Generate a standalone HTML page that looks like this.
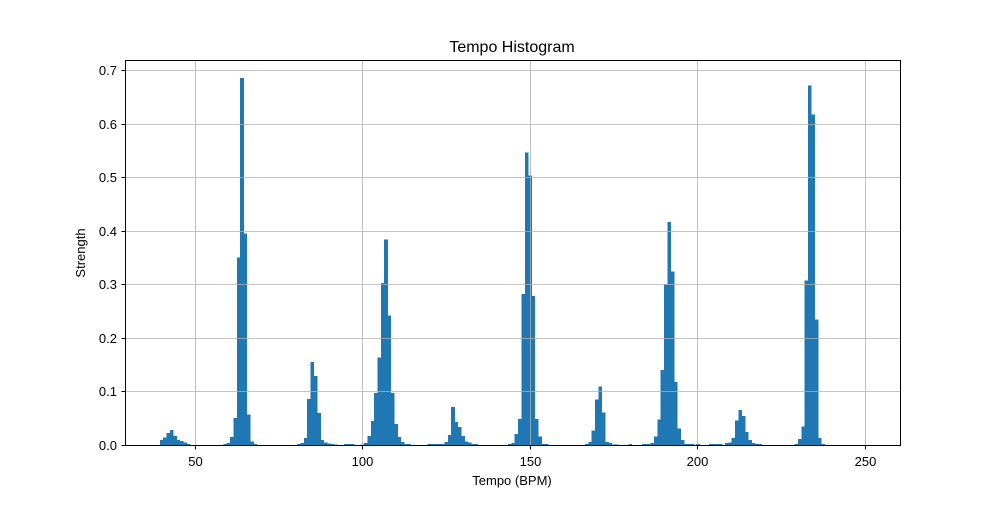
<!DOCTYPE html>
<html><head><meta charset="utf-8"><style>
body{margin:0;background:#fff;}
svg text{font-family:"Liberation Sans","DejaVu Sans",sans-serif;fill:#000;}
</style></head><body>
<svg id="chart" width="1000" height="500" xmlns="http://www.w3.org/2000/svg">
<rect x="0" y="0" width="1000" height="500" fill="#fff"/>
<g id="bars" shape-rendering="crispEdges"></g>
<g id="grid"></g>
<rect x="125.5" y="60.5" width="775" height="385" fill="none" stroke="#000" stroke-width="1"/>
<g id="ticks"></g>
<text x="512" y="52" font-size="16" text-anchor="middle">Tempo Histogram</text>
<text x="512" y="485" font-size="13" text-anchor="middle">Tempo (BPM)</text>
<text x="85" y="253" font-size="13" text-anchor="middle" transform="rotate(-90 85 253)">Strength</text>
</svg>
<script>
const bpms = [40,41,42,43,44,45,46,47,48,
59,60,61,62,63,64,65,66,67,68,
81,82,83,84,85,86,87,88,89,90,91,92,95,96,97,
100,101,102,103,104,105,106,107,108,109,110,111,112,113,114,
120,121,122,123,124,125,126,127,128,129,130,131,132,133,134,
144,145,146,147,148,149,150,151,152,153,154,155,
167,168,169,170,171,172,173,174,175,176,180,184,
184.6,185.6,186.6,187.6,188.6,189.6,190.6,191.6,192.6,193.6,194.6,195.6,196.6,197.6,198.6,200.2,
204,205,206,207,208.8,209.8,210.8,211.8,212.8,213.8,214.8,215.8,216.8,217.8,218.8,
229.6,230.6,231.6,232.6,233.6,234.6,235.6,236.6,237.6];
const strengths = [0.009,0.014,0.022,0.028,0.017,0.009,0.0075,0.005,0.002,
0.002,0.004,0.015,0.05,0.35,0.685,0.395,0.057,0.007,0.002,
0.002,0.004,0.013,0.086,0.155,0.129,0.06,0.009,0.005,0.003,0.002,0.001,0.002,0.002,0.002,
0.001,0.004,0.017,0.045,0.097,0.163,0.302,0.384,0.242,0.097,0.039,0.015,0.006,0.002,0.002,
0.002,0.002,0.002,0.002,0.002,0.006,0.019,0.071,0.043,0.034,0.017,0.007,0.005,0.002,0.002,
0.002,0.004,0.021,0.049,0.282,0.546,0.503,0.278,0.049,0.016,0.002,0.002,
0.002,0.006,0.027,0.085,0.109,0.061,0.006,0.004,0.001,0.001,0.002,0.002,
0.002,0.002,0.004,0.016,0.048,0.14,0.301,0.416,0.324,0.118,0.031,0.009,0.002,0.002,0.002,0.002,
0.002,0.002,0.002,0.002,0.004,0.005,0.013,0.046,0.065,0.054,0.024,0.009,0.004,0.002,0.002,
0.002,0.011,0.035,0.307,0.671,0.617,0.234,0.013,0.002];
const xTicks = [50,100,150,200,250];
const yTicks = [0.0,0.1,0.2,0.3,0.4,0.5,0.6,0.7];
const binWidth = 1;

const NS="http://www.w3.org/2000/svg";
const X0=125.5, X1=900.5, Y0=60.5, Y1=445.5;
const xs = b => 195 + (b-50)*3.348;
const ys = v => 445 - v*535.7;
const barsG=document.getElementById('bars'), gridG=document.getElementById('grid'), ticksG=document.getElementById('ticks');
bpms.forEach((b,i)=>{
  const r=document.createElementNS(NS,'rect');
  
  
  const xl=xs(b-binWidth/2), xr=xs(b+binWidth/2);
  r.setAttribute('x',xl); r.setAttribute('width',xr-xl+0.3);
  r.setAttribute('y',ys(strengths[i])); r.setAttribute('height',445-ys(strengths[i]));
  r.setAttribute('fill','#1f77b4');
  barsG.appendChild(r);
});
xTicks.forEach(t=>{
  const x=Math.round(xs(t))+0.5;
  const g=document.createElementNS(NS,'line');
  
  
  g.setAttribute('x1',x);g.setAttribute('x2',x);g.setAttribute('y1',Y0);g.setAttribute('y2',Y1);
  g.setAttribute('stroke','#b0b0b0');g.setAttribute('stroke-width','0.8');
  gridG.appendChild(g);
  const tk=document.createElementNS(NS,'line');
  
  
  tk.setAttribute('x1',x);tk.setAttribute('x2',x);tk.setAttribute('y1',Y1);tk.setAttribute('y2',Y1+4);
  tk.setAttribute('stroke','#000');
  ticksG.appendChild(tk);
  const tx=document.createElementNS(NS,'text');
  
  
  tx.setAttribute('x',x);tx.setAttribute('y',466);tx.setAttribute('font-size','13');tx.setAttribute('text-anchor','middle');
  tx.textContent=t;
  ticksG.appendChild(tx);
});
yTicks.forEach(t=>{
  const y=Math.round(ys(t))+0.5;
  const g=document.createElementNS(NS,'line');
  
  
  g.setAttribute('x1',X0);g.setAttribute('x2',X1);g.setAttribute('y1',y);g.setAttribute('y2',y);
  g.setAttribute('stroke','#b0b0b0');g.setAttribute('stroke-width','0.8');
  gridG.appendChild(g);
  const tk=document.createElementNS(NS,'line');
  
  
  tk.setAttribute('x1',X0-4);tk.setAttribute('x2',X0);tk.setAttribute('y1',y);tk.setAttribute('y2',y);
  tk.setAttribute('stroke','#000');
  ticksG.appendChild(tk);
  const tx=document.createElementNS(NS,'text');
  
  
  tx.setAttribute('x',117);tx.setAttribute('y',y+4.5);tx.setAttribute('font-size','13');tx.setAttribute('text-anchor','end');
  tx.textContent=t.toFixed(1);
  ticksG.appendChild(tx);
});
</script>
</body></html>
